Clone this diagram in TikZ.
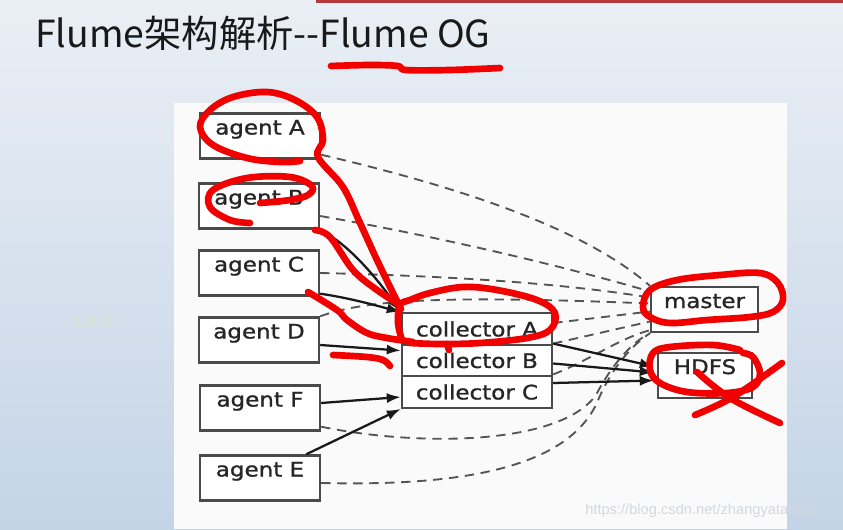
\documentclass[tikz,border=0pt]{standalone}
\usepackage{fontspec}
\setmainfont{DejaVu Sans}
\newfontfamily\cjk{Noto Sans CJK SC}
\newfontfamily\boxfont[FakeStretch=1.15, FakeBold=1.2]{DejaVu Sans}
\newfontfamily\urlfont{Liberation Sans}
\usetikzlibrary{arrows.meta, calc}

\definecolor{slidetop}{HTML}{EAEFF5}
\definecolor{slidebot}{HTML}{C4D4E7}
\definecolor{boxline}{HTML}{4A4A4A}
\definecolor{dashgray}{HTML}{555555}
\definecolor{penred}{HTML}{F20000}
\definecolor{barred}{HTML}{B23A3A}
\definecolor{wmgray}{HTML}{D4D8DC}
\definecolor{paleg}{HTML}{D6E6CC}

\begin{document}
\begin{tikzpicture}[x=0.75pt, y=-0.75pt,
  agentbox/.style={draw=boxline, line width=1.8pt, fill=white, minimum width=90pt,
    inner xsep=0pt, inner ysep=0pt, text height=15.75pt, text depth=18pt,
    font=\boxfont\fontsize{15}{18}\selectfont, text=black!85},
  collbox/.style={draw=boxline, line width=1.8pt, fill=white, minimum width=112.5pt,
    minimum height=23.6pt, inner sep=0pt, font=\boxfont\fontsize{15}{18}\selectfont, text=black!85},
  ctrl/.style={dashgray, dash pattern=on 7pt off 5pt, line width=1.4pt},
  flow/.style={black!90, line width=1.7pt, -{Latex[length=10.5pt,width=7.5pt]}},
  pen/.style={penred, line width=5pt, line cap=round, line join=round}
]
\useasboundingbox (0,0) rectangle (843,529);

% slide background
\shade[top color=slidetop, bottom color=slidebot] (0,0) rectangle (843,529);
\fill[barred] (316,0) rectangle (843,3);
\fill[white!98!black] (174,103) rectangle (787,529);

\node[anchor=base west, inner sep=0pt, text=black!90, font=\cjk\fontsize{28}{33}\selectfont] (title) at (35,47) {Flume架构解析--Flume OG};
\node[text=paleg, font=\fontsize{9.5}{11}\selectfont] (num) at (93,321) {11815};

% agents
\node[agentbox] (agA) at (260,136) {agent A};
\node[agentbox] (agB) at (259,206) {agent B};
\node[agentbox] (agC) at (259,273) {agent C};
\node[agentbox] (agD) at (259,340) {agent D};
\node[agentbox] (agF) at (260,408) {agent F};
\node[agentbox] (agE) at (260,478) {agent E};

% collectors
\node[collbox] (colA) at (477,329) {collector A};
\node[collbox] (colB) at (477,360.5) {collector B};
\node[collbox] (colC) at (477,392) {collector C};

\node[agentbox, minimum width=80pt] (master) at (704.5,309.5) {master};
\node[agentbox, minimum width=70.5pt] (hdfs) at (705,375.5) {HDFS};

% control lines to master
\draw[ctrl] ($(agA.south east)+(0,-5)$) .. controls (450,185) and (580,225) .. (master.north west);
\draw[ctrl] ($(agB.east)+(0,10)$) .. controls (430,235) and (560,265) .. ($(master.west)+(0,-18)$);
\draw[ctrl] (agC.east) .. controls (450,276) and (560,283) .. ($(master.west)+(0,-12)$);
\draw[ctrl] (agD.north east) .. controls (365,300) and (440,295) .. ($(master.west)+(0,-6)$);
\draw[ctrl] ($(colA.east)+(0,-6)$) -- ($(master.west)+(0,2)$);
\draw[ctrl] (colB.north east) -- ($(master.west)+(0,12)$);
\draw[ctrl] ($(colB.south east)+(0,-3)$) .. controls (590,360) and (620,338) .. ($(master.south west)+(0,-3)$);
\draw[ctrl] ($(agF.south east)+(0,-5)$) .. controls (420,447) and (560,445) .. (596,395)
  .. controls (610,368) and (630,343) .. (master.south west);
\draw[ctrl] ($(agE.east)+(0,5)$) .. controls (450,486) and (570,472) .. (599,398)
  .. controls (612,368) and (632,345) .. (master.south west);

% data flow
\draw[flow] (agA.south east) .. controls (360,200) and (378,265) .. (colA.north west);
\draw[flow] (agB.south east) .. controls (350,245) and (378,280) .. (colA.north west);
\draw[flow] ($(agC.south east)+(0,-3)$) .. controls (350,298) and (378,306) .. (colA.north west);
\draw[flow] ($(agD.east)+(0,5)$) -- ($(colB.north west)+(0,7)$);
\draw[flow] ($(agF.east)+(0,-5)$) -- ($(colC.west)+(0,5)$);
\draw[flow] ($(agE.north east)+(-15,0)$) -- (colC.south west);
\draw[flow] (colB.north east) -- ($(hdfs.west)+(-3,-9)$);
\draw[flow] ($(colB.east)+(0,3)$) -- ($(hdfs.west)+(-3,-3)$);
\draw[flow] ($(colC.east)+(0,-9)$) -- ($(hdfs.west)+(-3,5)$);

% red pen marks
\draw[pen] plot[smooth, tension=0.6] coordinates {(331,66) (370,65) (398,66) (406,70) (450,70) (500,68)};
\draw[pen] plot[smooth, tension=0.6] coordinates {(300,161) (280,162) (247,158) (213,145) (200,127) (210,110)
  (233,97) (267,92) (295,100) (317,117) (323,140) (318,157) (343,187) (360,223) (377,260) (393,293) (401,309)};
\draw[pen] plot[smooth, tension=0.6] coordinates {(260,203) (290,200) (308,195) (312,186) (290,177) (247,178)
  (213,190) (210,207) (230,220) (250,223)};
\draw[pen] plot[smooth, tension=0.6] coordinates {(315,230) (330,237) (353,270) (377,290) (400,305)};
\draw[pen] plot[smooth, tension=0.6] coordinates {(308,292) (337,310) (347,320) (367,333) (387,338) (413,342)};
\draw[pen] plot[smooth, tension=0.6] coordinates {(402,340) (398,323) (400,305) (410,300) (430,293) (463,287)
  (497,290) (537,300) (555,313) (550,330) (527,338) (480,343) (440,344) (410,343)};
\draw[pen] (447,344) -- (449,350);
\draw[pen] plot[smooth, tension=0.6] coordinates {(333,355) (367,357) (383,360) (390,366)};
\draw[pen] plot[smooth cycle, tension=0.6] coordinates {(643,307) (650,290) (677,280) (720,275) (760,273)
  (778,283) (783,300) (773,312) (750,317) (707,320) (670,323) (650,317)};
\draw[pen] plot[smooth, tension=0.6] coordinates {(740,350) (713,345) (670,347) (653,353) (650,370) (660,383)
  (687,392) (727,393) (753,387) (760,373) (753,357) (743,353)};
\draw[pen] plot[smooth, tension=0.6] coordinates {(697,372) (730,398) (780,423)};
\draw[pen] plot[smooth, tension=0.6] coordinates {(695,415) (733,397) (782,363)};

\node[anchor=base west, inner sep=0pt, text=wmgray, font=\urlfont\fontsize{11}{13}\selectfont] (wm) at (585,514) {https://blog.csdn.net/zhangyataotao};
\end{tikzpicture}
\end{document}
